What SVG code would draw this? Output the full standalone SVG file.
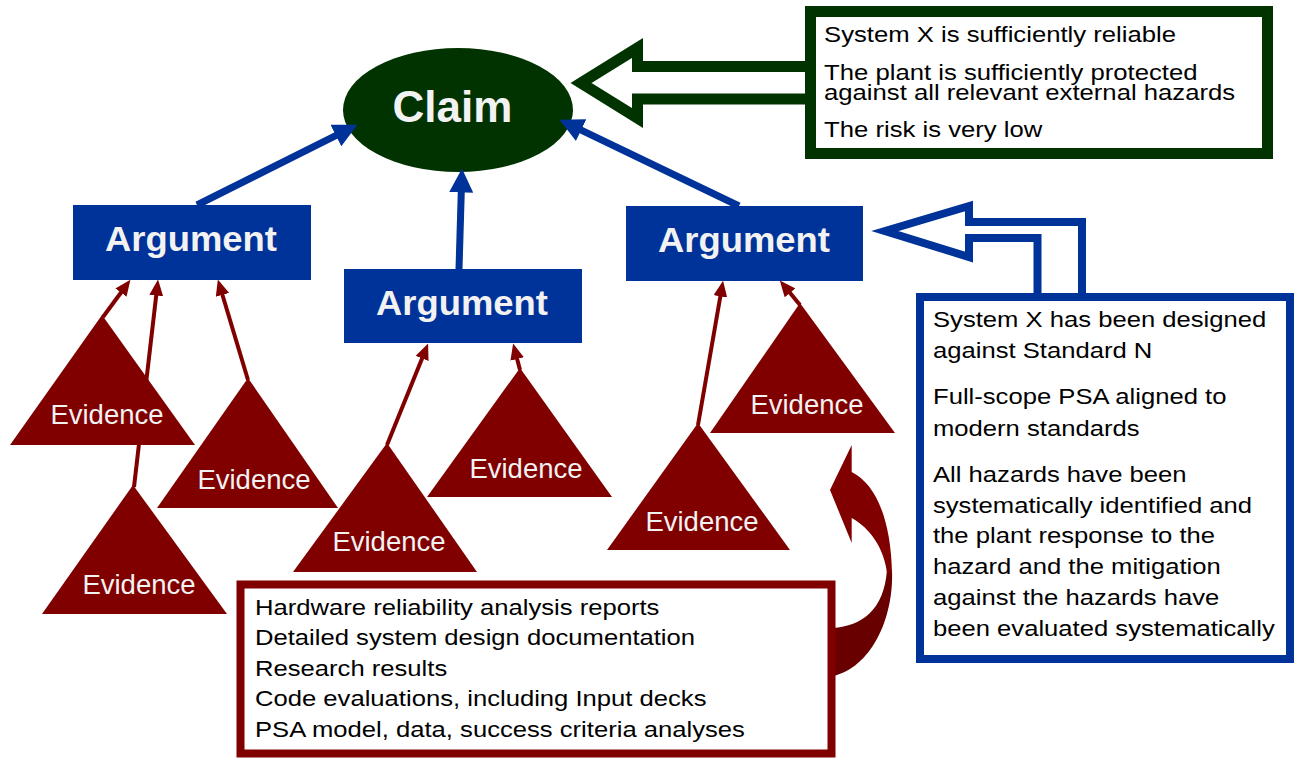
<svg xmlns="http://www.w3.org/2000/svg" width="1300" height="758" viewBox="0 0 1300 758">
<defs>
<style>
.arg{fill:#003399}
.argt{font-family:"Liberation Sans",Arial,sans-serif;font-weight:bold;font-size:35px;fill:#f2f2f2;text-anchor:middle}
.ev{fill:#800000}
.evt{font-family:"Liberation Sans",Arial,sans-serif;font-size:27.5px;fill:#f2f2f2;text-anchor:middle}
.body{font-family:"Liberation Sans",Arial,sans-serif;font-size:22px;fill:#000}
.bl{stroke:#003399;stroke-width:7;fill:none}
.rl{stroke:#800000;stroke-width:4;fill:none}
</style>
<marker id="hb" markerUnits="userSpaceOnUse" markerWidth="24" markerHeight="24" viewBox="0 0 23 23" refX="11" refY="11.5" orient="auto">
<path d="M0,0 L23,11.5 L0,23 Z" fill="#003399"/>
</marker>
<marker id="hr" markerUnits="userSpaceOnUse" markerWidth="16" markerHeight="14" viewBox="0 0 15 13" refX="8" refY="6.5" orient="auto">
<path d="M0,0 L15,6.5 L0,13 Z" fill="#800000"/>
</marker>
</defs>
<rect width="1300" height="758" fill="#ffffff"/>

<g id="claim">
<ellipse cx="458" cy="110" rx="115" ry="62" fill="#003300"/>
<text x="452.5" y="122" font-family="Liberation Sans, Arial, sans-serif" font-weight="bold" font-size="44" fill="#f2f2f2" text-anchor="middle">Claim</text>
</g>

<g id="argument1">
<rect class="arg" x="73" y="205" width="238" height="75"/>
<text class="argt" transform="translate(191 251) scale(1.04 1)">Argument</text>
</g>
<g id="argument2">
<rect class="arg" x="344" y="269" width="238" height="74"/>
<text class="argt" transform="translate(462 315) scale(1.04 1)">Argument</text>
</g>
<g id="argument3">
<rect class="arg" x="626" y="206" width="237" height="75"/>
<text class="argt" transform="translate(744 252) scale(1.04 1)">Argument</text>
</g>

<g id="connectors">
<polygon points="581,83 637.5,48 637.5,66.5 810.5,66.5 810.5,99 637.5,99 637.5,118" fill="#ffffff" stroke="#003300" stroke-width="11" stroke-linejoin="miter" stroke-miterlimit="6"/>
<polygon points="885,231 969,206 969,222 1082,222 1082,297 1037.5,297 1037.5,238 969,238 969,257" fill="#ffffff" stroke="#003399" stroke-width="8" stroke-linejoin="miter" stroke-miterlimit="6"/>
<line class="bl" x1="197" y1="205" x2="346.2" y2="130.4" marker-end="url(#hb)"/>
<line class="bl" x1="459" y1="269" x2="461.6" y2="181" marker-end="url(#hb)"/>
<line class="bl" x1="739" y1="206" x2="570.8" y2="125.2" marker-end="url(#hb)"/>
<line class="rl" x1="103" y1="317" x2="126" y2="285.7" marker-end="url(#hr)"/>
<line class="rl" x1="134" y1="487" x2="157.2" y2="287" marker-end="url(#hr)"/>
<line class="rl" x1="248" y1="380" x2="220" y2="286.7" marker-end="url(#hr)"/>
<line class="rl" x1="387" y1="445" x2="425.3" y2="350.5" marker-end="url(#hr)"/>
<line class="rl" x1="520" y1="370" x2="515" y2="350.7" marker-end="url(#hr)"/>
<line class="rl" x1="698" y1="425" x2="721.8" y2="288" marker-end="url(#hr)"/>
<line class="rl" x1="800" y1="305" x2="784.6" y2="286.3" marker-end="url(#hr)"/>
<path d="M892,570 C894,620 870,668 833,676 L833,628 C862,626 884,610 887,570 Z" fill="#680000"/>
<path d="M851.7,445 L851.7,472 C876,484 891,520 892,573 L887,573 C884,548 870,528 851.7,518 L851.7,543 L830,490 Z" fill="#800000"/>
</g>

<g id="evidence-a">
<polygon class="ev" points="102,315 10,445 195,445"/>
<text class="evt" x="107" y="424">Evidence</text>
</g>
<g id="evidence-b">
<polygon class="ev" points="133,485 42,614 227,614"/>
<text class="evt" x="139" y="594">Evidence</text>
</g>
<g id="evidence-c">
<polygon class="ev" points="248,378 157,508 338,508"/>
<text class="evt" x="254" y="489">Evidence</text>
</g>
<g id="evidence-d">
<polygon class="ev" points="387,443 293,572 477,572"/>
<text class="evt" x="389" y="551">Evidence</text>
</g>
<g id="evidence-e">
<polygon class="ev" points="520,368 427,497 612,497"/>
<text class="evt" x="526" y="478">Evidence</text>
</g>
<g id="evidence-f">
<polygon class="ev" points="698,423 607,550 790,550"/>
<text class="evt" x="702" y="531">Evidence</text>
</g>
<g id="evidence-g">
<polygon class="ev" points="800,303 710,433 895,433"/>
<text class="evt" x="807" y="414">Evidence</text>
</g>

<g id="claims-box">
<rect x="810.5" y="11.5" width="457" height="142" fill="#ffffff" stroke="#003300" stroke-width="11"/>
<text class="body" transform="translate(824 0) scale(1.168 1)">
<tspan x="0" y="42">System X is sufficiently reliable</tspan>
<tspan x="0" y="80">The plant is sufficiently protected</tspan>
<tspan x="0" y="100">against all relevant external hazards</tspan>
<tspan x="0" y="137">The risk is very low</tspan>
</text>
</g>

<g id="arguments-box">
<rect x="920" y="297" width="370" height="362" fill="#ffffff" stroke="#003399" stroke-width="8"/>
<text class="body" transform="translate(933 0) scale(1.165 1)">
<tspan x="0" y="327">System X has been designed</tspan>
<tspan x="0" y="358">against Standard N</tspan>
<tspan x="0" y="404">Full-scope PSA aligned to</tspan>
<tspan x="0" y="436">modern standards</tspan>
<tspan x="0" y="482">All hazards have been</tspan>
<tspan x="0" y="513">systematically identified and</tspan>
<tspan x="0" y="543">the plant response to the</tspan>
<tspan x="0" y="574">hazard and the mitigation</tspan>
<tspan x="0" y="605">against the hazards have</tspan>
<tspan x="0" y="636">been evaluated systematically</tspan>
</text>
</g>

<g id="evidence-box">
<rect x="240.5" y="584.5" width="591" height="169" fill="#ffffff" stroke="#800000" stroke-width="8"/>
<text class="body" transform="translate(255 0) scale(1.165 1)">
<tspan x="0" y="615">Hardware reliability analysis reports</tspan>
<tspan x="0" y="645.5">Detailed system design documentation</tspan>
<tspan x="0" y="676">Research results</tspan>
<tspan x="0" y="706.5">Code evaluations, including Input decks</tspan>
<tspan x="0" y="737">PSA model, data, success criteria analyses</tspan>
</text>
</g>
</svg>
